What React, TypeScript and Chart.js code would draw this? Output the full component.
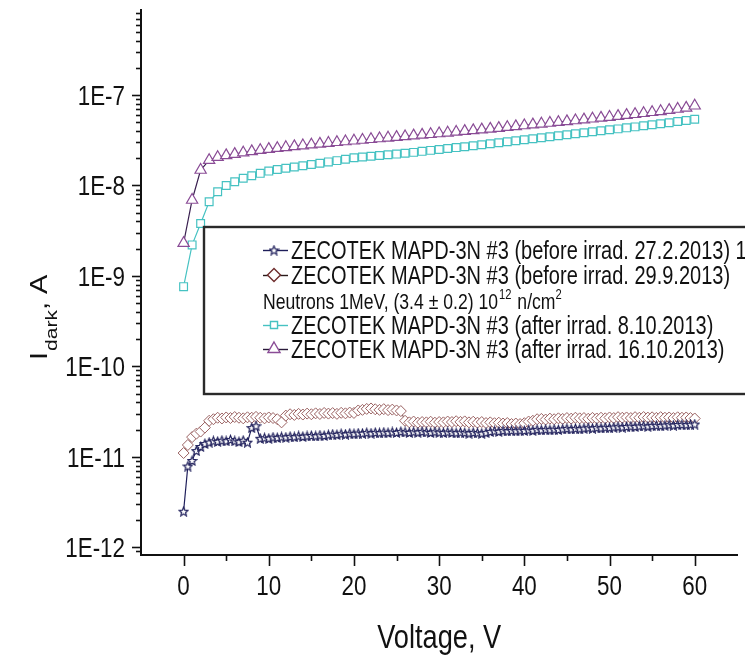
import React, { useEffect, useRef } from 'react';
import { Chart, registerables } from 'chart.js';
import { drawPoint } from 'chart.js/helpers';

Chart.register(...registerables);

// ---------- data ----------
const voltageFine = [
  0, 0.5, 1, 1.5, 2, 2.5, 3, 3.5, 4, 4.5, 5, 5.5, 6, 6.5, 7, 7.5, 8, 8.5, 9, 9.5,
  10, 10.5, 11, 11.5, 12, 12.5, 13, 13.5, 14, 14.5, 15, 15.5, 16, 16.5, 17, 17.5, 18, 18.5, 19, 19.5,
  20, 20.5, 21, 21.5, 22, 22.5, 23, 23.5, 24, 24.5, 25, 25.5, 26, 26.5, 27, 27.5, 28, 28.5, 29, 29.5,
  30, 30.5, 31, 31.5, 32, 32.5, 33, 33.5, 34, 34.5, 35, 35.5, 36, 36.5, 37, 37.5, 38, 38.5, 39, 39.5,
  40, 40.5, 41, 41.5, 42, 42.5, 43, 43.5, 44, 44.5, 45, 45.5, 46, 46.5, 47, 47.5, 48, 48.5, 49, 49.5,
  50, 50.5, 51, 51.5, 52, 52.5, 53, 53.5, 54, 54.5, 55, 55.5, 56, 56.5, 57, 57.5, 58, 58.5, 59, 59.5,
  60,
];

const voltageCoarse = [
  0, 1, 2, 3, 4, 5, 6, 7, 8, 9, 10, 11, 12, 13, 14, 15, 16, 17, 18, 19,
  20, 21, 22, 23, 24, 25, 26, 27, 28, 29, 30, 31, 32, 33, 34, 35, 36, 37, 38, 39,
  40, 41, 42, 43, 44, 45, 46, 47, 48, 49, 50, 51, 52, 53, 54, 55, 56, 57, 58, 59,
  60,
];

// before irrad. 27.2.2013, in units of 1E-11 A
const beforeFeb = [
  0.25, 0.79, 0.91, 1.17, 1.3, 1.4, 1.45, 1.5, 1.48, 1.52, 1.5, 1.55, 1.5, 1.47, 1.52, 1.45, 2.1, 2.2, 1.6, 1.62,
  1.6, 1.65, 1.63, 1.66, 1.65, 1.68, 1.66, 1.7, 1.68, 1.7, 1.72, 1.7, 1.74, 1.72, 1.75, 1.78, 1.76, 1.8, 1.78, 1.82,
  1.8, 1.83, 1.82, 1.85, 1.83, 1.86, 1.84, 1.87, 1.85, 1.88, 1.86, 1.9, 1.88, 1.86, 1.89, 1.87, 1.9, 1.88, 1.86, 1.89,
  1.87, 1.85, 1.88, 1.86, 1.84, 1.87, 1.85, 1.83, 1.86, 1.84, 1.82, 1.85, 1.9, 1.93, 1.91, 1.95, 1.93, 1.96, 1.94, 1.97,
  1.95, 1.98, 1.96, 2.0, 1.98, 2.01, 1.99, 2.02, 2.0, 2.03, 2.05, 2.03, 2.06, 2.04, 2.07, 2.09, 2.07, 2.1, 2.08, 2.12,
  2.1, 2.13, 2.15, 2.13, 2.16, 2.18, 2.16, 2.19, 2.2, 2.18, 2.21, 2.23, 2.21, 2.24, 2.26, 2.24, 2.27, 2.28, 2.26, 2.29,
  2.3,
];

// before irrad. 29.9.2013, in units of 1E-11 A
const beforeSep = [
  1.1, 1.35, 1.65, 1.8, 1.9, 2.1, 2.5, 2.6, 2.7, 2.65, 2.72, 2.68, 2.75, 2.7, 2.66, 2.73, 2.7, 2.76, 2.7, 2.66,
  2.72, 2.68, 2.6, 2.4, 2.85, 2.95, 2.9, 2.98, 2.93, 3.0, 2.95, 3.02, 2.97, 3.05, 3.0, 3.04, 2.98, 3.06, 3.02, 3.08,
  3.05, 3.25, 3.3, 3.38, 3.42, 3.35, 3.3, 3.36, 3.28, 3.32, 3.25, 3.2, 2.5, 2.4, 2.45, 2.38, 2.42, 2.4, 2.44, 2.38,
  2.42, 2.4, 2.45, 2.42, 2.47, 2.43, 2.46, 2.4, 2.44, 2.38, 2.42, 2.36, 2.4, 2.35, 2.38, 2.33, 2.36, 2.3, 2.33, 2.3,
  2.35, 2.45, 2.5, 2.6, 2.62, 2.58, 2.64, 2.6, 2.66, 2.62, 2.68, 2.64, 2.7, 2.66, 2.68, 2.63, 2.69, 2.65, 2.7, 2.66,
  2.72, 2.68, 2.74, 2.7, 2.72, 2.68, 2.74, 2.7, 2.75, 2.71, 2.73, 2.69, 2.74, 2.7, 2.72, 2.68, 2.73, 2.7, 2.72, 2.68,
  2.65,
];

// after irrad. 8.10.2013, in units of 1E-8 A
const afterOct8 = [
  0.076, 0.22, 0.38, 0.66, 0.85, 1.0, 1.1, 1.2, 1.28, 1.36, 1.44, 1.5, 1.55, 1.6, 1.65, 1.7, 1.76, 1.82, 1.88, 1.95,
  2.02, 2.06, 2.1, 2.14, 2.18, 2.22, 2.27, 2.32, 2.38, 2.44, 2.5, 2.56, 2.62, 2.68, 2.75, 2.82, 2.89, 2.96, 3.04, 3.12,
  3.2, 3.28, 3.36, 3.45, 3.54, 3.63, 3.72, 3.82, 3.92, 4.02, 4.12, 4.22, 4.33, 4.44, 4.56, 4.68, 4.8, 4.94, 5.08, 5.22,
  5.4,
];

// after irrad. 16.10.2013, in units of 1E-8 A
const afterOct16 = [
  0.23, 0.69, 1.48, 1.9, 2.05, 2.15, 2.22, 2.3, 2.38, 2.45, 2.52, 2.58, 2.64, 2.7, 2.76, 2.82, 2.88, 2.94, 3.0, 3.06,
  3.12, 3.18, 3.24, 3.3, 3.36, 3.42, 3.48, 3.55, 3.62, 3.68, 3.75, 3.82, 3.9, 3.98, 4.06, 4.14, 4.22, 4.3, 4.4, 4.5,
  4.6, 4.7, 4.8, 4.9, 5.0, 5.1, 5.22, 5.34, 5.46, 5.58, 5.7, 5.84, 5.98, 6.12, 6.28, 6.44, 6.6, 6.8, 7.0, 7.2,
  7.6,
];

const xMajorTicks = [0, 10, 20, 30, 40, 50, 60];
const xMinorTicks = [5, 15, 25, 35, 45, 55];
const yDecadeExponents = [-12, -11, -10, -9, -8, -7];

const seriesLabels = [
  'ZECOTEK MAPD-3N #3 (before irrad. 27.2.2013) 1',
  'ZECOTEK MAPD-3N #3 (before irrad. 29.9.2013)',
  'ZECOTEK MAPD-3N #3 (after irrad. 8.10.2013)',
  'ZECOTEK MAPD-3N #3 (after irrad. 16.10.2013)',
];
const noteParts = ['Neutrons 1MeV, (3.4 ± 0.2) 10', '12', ' n/cm', '2'];
const xTitle = 'Voltage, V';
const yTitleParts = ['I', 'dark', ', A'];

// ---------- styles ----------
const SANS = '"Liberation Sans", Arial, sans-serif';
const SQUEEZE = 0.8; // the source text is horizontally condensed
const C_TEXT = '#111';
const C_STAR = '#1e1e5a';
const C_DIAM = '#9a6262';
const C_DIAM_LINE = '#5a3535';
const C_DIAM_LEG = '#6e2c2c';
const C_SQ = '#46c2c2';
const C_TRI = '#8a4c96';
const C_TRI_LINE = '#3a2050';

function makeStar(color: string, size: number): HTMLCanvasElement {
  const c = document.createElement('canvas');
  c.width = size;
  c.height = size;
  const g = c.getContext('2d')!;
  const cx = size / 2;
  const cy = size / 2 + 0.6;
  const R = size / 2 - 0.8;
  const r = R * 0.45;
  g.beginPath();
  for (let i = 0; i < 10; i++) {
    const a = -Math.PI / 2 + (i * Math.PI) / 5;
    const rr = i % 2 ? r : R;
    g.lineTo(cx + rr * Math.cos(a), cy + rr * Math.sin(a));
  }
  g.closePath();
  g.fillStyle = '#fff';
  g.fill();
  g.strokeStyle = color;
  g.lineWidth = 1.2;
  g.stroke();
  return c;
}

function pts(xs: number[], ys: number[], unit: number) {
  return xs.map((x, i) => ({ x, y: ys[i] * unit }));
}

// draw condensed text; align: 'left' | 'center' | 'right'
function sqText(ctx: CanvasRenderingContext2D, text: string, x: number, y: number, size: number, align: string) {
  ctx.save();
  ctx.font = `${size}px ${SANS}`;
  ctx.textAlign = 'left';
  ctx.textBaseline = 'alphabetic';
  const w = ctx.measureText(text).width * SQUEEZE;
  let x0 = x;
  if (align === 'center') x0 = x - w / 2;
  else if (align === 'right') x0 = x - w;
  ctx.translate(x0, y);
  ctx.scale(SQUEEZE, 1);
  ctx.fillText(text, 0, 0);
  ctx.restore();
  return w;
}

const overlayPlugin = {
  id: 'overlay',
  afterDraw(chart: any) {
    const { ctx, chartArea: a, scales } = chart;
    const xs = scales.x;
    const ys = scales.y;
    ctx.save();
    ctx.strokeStyle = C_TEXT;
    ctx.lineWidth = 1.6;
    // x ticks
    const drawX = (v: number, len: number) => {
      const px = Math.round(xs.getPixelForValue(v)) + 0.5;
      ctx.beginPath();
      ctx.moveTo(px, a.bottom);
      ctx.lineTo(px, a.bottom + len);
      ctx.stroke();
    };
    xMajorTicks.forEach((v) => drawX(v, 11));
    xMinorTicks.forEach((v) => drawX(v, 6));
    // y ticks
    for (let e = -13; e <= -7; e++) {
      for (let m = 1; m <= 9; m++) {
        const v = m * Math.pow(10, e);
        if (v < ys.min || v > ys.max) continue;
        const py = Math.round(ys.getPixelForValue(v)) + 0.5;
        ctx.beginPath();
        ctx.moveTo(a.left, py);
        ctx.lineTo(a.left - (m === 1 ? 9 : 5), py);
        ctx.stroke();
      }
    }

    ctx.fillStyle = C_TEXT;
    // tick labels
    xMajorTicks.forEach((v) => {
      sqText(ctx, String(v), xs.getPixelForValue(v), a.bottom + 40, 28, 'center');
    });
    yDecadeExponents.forEach((e) => {
      sqText(ctx, '1E' + e, a.left - 16, ys.getPixelForValue(Math.pow(10, e)) + 10, 28, 'right');
    });

    // x title
    sqText(ctx, xTitle, (a.left + a.right) / 2, 648, 34, 'center');

    // y title (rotated, condensed like the source)
    ctx.save();
    ctx.translate(47, 360);
    ctx.scale(SQUEEZE, 1);
    ctx.rotate(-Math.PI / 2);
    ctx.textAlign = 'left';
    ctx.textBaseline = 'alphabetic';
    let tx = 0;
    ctx.font = `29px ${SANS}`;
    ctx.fillText(yTitleParts[0], tx, 0);
    tx += ctx.measureText(yTitleParts[0]).width + 1;
    ctx.font = `21px ${SANS}`;
    ctx.fillText(yTitleParts[1], tx, 13);
    tx += ctx.measureText(yTitleParts[1]).width;
    ctx.font = `29px ${SANS}`;
    ctx.fillText(yTitleParts[2], tx, 0);
    ctx.restore();

    // legend box
    const bx = 204, by = 227, bb = 394;
    ctx.fillStyle = '#fff';
    ctx.fillRect(bx, by, chart.width - bx + 10, bb - by);
    ctx.strokeStyle = '#2a2a2a';
    ctx.lineWidth = 2.4;
    ctx.strokeRect(bx, by, chart.width - bx + 20, bb - by);

    const rows = [250, 275, 300, 325, 349];
    const dsForRow = [0, 1, -1, 2, 3];
    const lx0 = 263, lx1 = 288, mx = 274, textX = 291;
    rows.forEach((ry, i) => {
      const di = dsForRow[i];
      ctx.fillStyle = C_TEXT;
      if (di < 0) {
        let x = lx0;
        x += sqText(ctx, noteParts[0], x, ry + 8.5, 22, 'left') + 1;
        x += sqText(ctx, noteParts[1], x, ry - 1, 14, 'left') + 1;
        x += sqText(ctx, noteParts[2], x, ry + 8.5, 22, 'left');
        sqText(ctx, noteParts[3], x, ry - 1, 14, 'left');
        return;
      }
      const ds = chart.data.datasets[di];
      ctx.strokeStyle = ds.legendLine;
      ctx.lineWidth = 1.4;
      ctx.beginPath();
      ctx.moveTo(lx0, ry + 0.5);
      ctx.lineTo(lx1, ry + 0.5);
      ctx.stroke();
      ctx.fillStyle = '#fff';
      ctx.strokeStyle = ds.legendMarker;
      ctx.lineWidth = 1.4;
      drawPoint(ctx, { pointStyle: ds.pointStyle, radius: ds.legendRadius, borderWidth: 1.4, rotation: 0 } as any, mx, ry);
      ctx.fillStyle = C_TEXT;
      sqText(ctx, seriesLabels[di], textX, ry + 9, 25, 'left');
    });
    ctx.restore();
  },
};

export default function App() {
  const ref = useRef<HTMLCanvasElement | null>(null);
  useEffect(() => {
    if (!ref.current) return;
    const star = makeStar(C_STAR, 11);
    const chart = new Chart(ref.current, {
      type: 'line',
      data: {
        datasets: [
          {
            label: seriesLabels[0],
            data: pts(voltageFine, beforeFeb, 1e-11),
            borderColor: C_STAR,
            pointBorderColor: C_STAR,
            pointBackgroundColor: '#fff',
            pointStyle: star as any,
            pointRadius: 5,
            borderWidth: 1.2,
            order: 0,
            legendRadius: 5,
            legendLine: C_STAR,
            legendMarker: C_STAR,
          } as any,
          {
            label: seriesLabels[1],
            data: pts(voltageFine, beforeSep, 1e-11),
            borderColor: C_DIAM_LINE,
            pointBorderColor: C_DIAM,
            pointBackgroundColor: '#fff',
            pointStyle: 'rectRot',
            pointRadius: 5.5,
            pointBorderWidth: 1,
            borderWidth: 1,
            order: 1,
            legendRadius: 6.5,
            legendLine: '#2a1a1a',
            legendMarker: C_DIAM_LEG,
          } as any,
          {
            label: seriesLabels[2],
            data: pts(voltageCoarse, afterOct8, 1e-8),
            borderColor: C_SQ,
            pointBorderColor: C_SQ,
            pointBackgroundColor: '#fff',
            pointStyle: 'rect',
            pointRadius: 5.5,
            pointBorderWidth: 1.2,
            borderWidth: 1.2,
            order: 3,
            legendRadius: 5,
            legendLine: C_SQ,
            legendMarker: C_SQ,
          } as any,
          {
            label: seriesLabels[3],
            data: pts(voltageCoarse, afterOct16, 1e-8),
            borderColor: C_TRI_LINE,
            pointBorderColor: C_TRI,
            pointBackgroundColor: '#fff',
            pointStyle: 'triangle',
            pointRadius: 6.5,
            pointBorderWidth: 1.2,
            borderWidth: 1.2,
            order: 2,
            legendRadius: 7,
            legendLine: '#2a1a3a',
            legendMarker: C_TRI,
          } as any,
        ],
      },
      options: {
        animation: false,
        responsive: false,
        layout: { padding: { top: 10, left: 0, right: 0, bottom: 0 } },
        plugins: { legend: { display: false }, tooltip: { enabled: false }, title: { display: false } },
        elements: { line: { tension: 0 } },
        scales: {
          x: {
            type: 'linear',
            min: -5,
            max: 65,
            grid: { display: false, drawTicks: false },
            border: { display: true, color: C_TEXT, width: 2 },
            afterBuildTicks: (s: any) => {
              s.ticks = xMajorTicks.map((v) => ({ value: v }));
            },
            afterFit: (s: any) => {
              s.height = 102;
            },
            ticks: { display: false },
          },
          y: {
            type: 'logarithmic',
            min: 8.2e-13,
            max: 8.7e-7,
            grid: { display: false, drawTicks: false },
            border: { display: true, color: C_TEXT, width: 2 },
            afterBuildTicks: (s: any) => {
              s.ticks = yDecadeExponents.map((e) => ({ value: Math.pow(10, e) }));
            },
            afterFit: (s: any) => {
              s.width = 141;
            },
            ticks: { display: false },
          },
        },
      } as any,
      plugins: [overlayPlugin],
    });
    return () => chart.destroy();
  }, []);
  return (
    <div style={{ position: 'fixed', left: 0, top: 0, width: 745, height: 657, background: '#fff' }}>
      <canvas ref={ref} width={745} height={657} style={{ display: 'block' }} />
    </div>
  );
}
